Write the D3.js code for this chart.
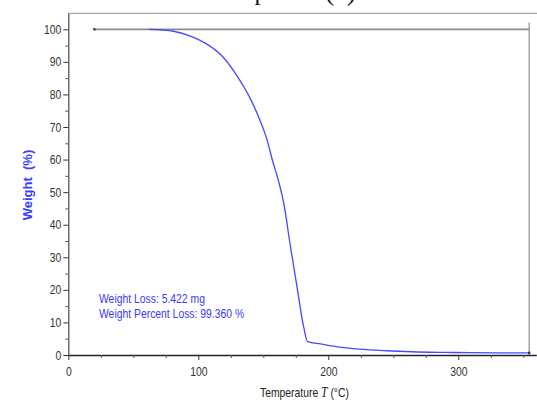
<!DOCTYPE html>
<html><head><meta charset="utf-8">
<script src="https://cdn.jsdelivr.net/npm/d3@7"></script>
<style>
html,body{margin:0;padding:0;background:#fff;}
svg{display:block;}
text{font-family:"Liberation Sans",Arial,sans-serif;}
</style></head>
<body>
<svg id="chart" width="537" height="406"></svg>
<script>
// ---- data ----
const temperature = [62, 70, 81, 94, 106, 119, 132, 140, 147, 153, 157, 162, 166, 170.5, 175.5, 181, 184, 194, 206, 224, 245, 264, 290, 309, 330, 354];
const weight      = [100, 99.8, 99.4, 97.9, 95.6, 91.5, 84.3, 78.7, 72.5, 65.9, 59.8, 53, 46, 34.3, 22, 8.7, 4.1, 3.4, 2.6, 1.8, 1.3, 1.0, 0.8, 0.7, 0.65, 0.64];
const baselineT = [20, 354.5];
const baselineW = [100, 100];
const xTicks = [0, 100, 200, 300];
const yTicks = [0, 10, 20, 30, 40, 50, 60, 70, 80, 90, 100];
const annotation = ["Weight Loss: 5.422 mg", "Weight Percent Loss: 99.360 %"];
const xLabel = "Temperature";
const yLabel = "Weight  (%)";

const svg = d3.select("#chart");
const SQ = 0.83; // horizontal squeeze of the source image

const x = d3.scaleLinear().domain([0, 360]).range([68.3, 536.3]);
const y = d3.scaleLinear().domain([0, 105]).range([355, 13]);

function squeeze(sel){
  sel.each(function(){
    const w = this.getComputedTextLength();
    this.setAttribute("textLength", (w*SQ).toFixed(2));
    this.setAttribute("lengthAdjust", "spacingAndGlyphs");
  });
}

// clipped title fragment at the very top
svg.append("text").attr("x", 206).attr("y", 0).attr("font-family", "Liberation Serif, Times New Roman, serif")
  .attr("font-size", 25).attr("fill", "#111").style("font-family","'Liberation Serif',serif").text("Compound");
svg.append("text").attr("x", 325).attr("y", 0)
  .attr("font-size", 28).attr("fill", "#111").style("font-family","'Liberation Serif',serif").text("(a)");

// top frame line
svg.append("line").attr("x1", x(0)).attr("x2", 537).attr("y1", 13.3).attr("y2", 13.3)
  .attr("stroke", "#a8a8a8").attr("stroke-width", 1.2);

// minor ticks
const xMinor = d3.range(0, 361, 25).filter(v => v % 100 !== 0);
const yMinor = d3.range(5, 105, 10);

// x axis
const gx = svg.append("g").attr("transform", "translate(0,355)")
  .call(d3.axisBottom(x).tickValues(xTicks).tickSize(5).tickPadding(7).tickSizeOuter(0));
gx.select(".domain").attr("stroke", "#222").attr("stroke-width", 1.3);
gx.selectAll(".tick line").attr("stroke", "#333");
gx.selectAll(".tick text").attr("font-size", 12.5).attr("fill", "#333").style("font-family","'Liberation Sans',Arial,sans-serif").call(squeeze);
svg.append("g").attr("transform", "translate(0,355)")
  .call(d3.axisBottom(x).tickValues(xMinor).tickSize(3).tickFormat(""))
  .call(g => g.select(".domain").remove())
  .selectAll("line").attr("stroke", "#555");

// y axis
const gy = svg.append("g").attr("transform", `translate(${x(0)},0)`)
  .call(d3.axisLeft(y).tickValues(yTicks).tickSize(5).tickPadding(2).tickSizeOuter(0));
gy.select(".domain").attr("stroke", "#555").attr("stroke-width", 1.3);
gy.selectAll(".tick line").attr("stroke", "#333");
gy.selectAll(".tick text").attr("font-size", 12.5).attr("fill", "#333").style("font-family","'Liberation Sans',Arial,sans-serif").call(squeeze);
svg.append("g").attr("transform", `translate(${x(0)},0)`)
  .call(d3.axisLeft(y).tickValues(yMinor).tickSize(3).tickFormat(""))
  .call(g => g.select(".domain").remove())
  .selectAll("line").attr("stroke", "#555");

// right vertical line
svg.append("line").attr("x1", x(354.5)).attr("x2", x(354.5)).attr("y1", 22.5).attr("y2", 355)
  .attr("stroke", "#777").attr("stroke-width", 1);

// 100% baseline (gray)
const base = baselineT.map((t,i)=>[t, baselineW[i]]);
svg.append("path").datum(base)
  .attr("d", d3.line().x(d=>x(d[0])).y(d=>y(d[1])))
  .attr("fill", "none").attr("stroke", "#8c8c8c").attr("stroke-width", 1.8);
svg.append("rect").attr("x", x(20)-1.2).attr("y", y(100)-1.2).attr("width", 2.4).attr("height", 2.4).attr("fill", "#444");

// TGA curve
const pts = temperature.map((t,i)=>[t, weight[i]]);
svg.append("path").datum(pts)
  .attr("d", d3.line().x(d=>x(d[0])).y(d=>y(d[1])).curve(d3.curveMonotoneX))
  .attr("fill", "none").attr("stroke", "#4848ff").attr("stroke-width", 1.3);
svg.append("rect").attr("x", x(354.5)-1.2).attr("y", y(0.64)-1.2).attr("width", 2.4).attr("height", 2.4).attr("fill", "#333");

// annotation
annotation.forEach((s,i)=>{
  svg.append("text").attr("x", 99).attr("y", 303 + i*15.3)
    .attr("font-size", 12.5).attr("fill", "#3a3aff").text(s).call(squeeze);
});

// y label
svg.append("text").attr("transform", "translate(32,185) rotate(-90)")
  .attr("text-anchor", "middle").attr("font-size", 13).attr("font-weight", "bold")
  .attr("fill", "#3c3cff").attr("xml:space", "preserve").style("white-space","pre").text(yLabel);

// x label
const xl = svg.append("text").attr("x", 260).attr("y", 397).attr("font-size", 12.5).attr("fill", "#222")
  .style("white-space","pre");
xl.append("tspan").text(xLabel + " ");
xl.append("tspan").style("font-family","'Liberation Serif',serif").attr("font-style","italic").attr("font-size", 14).text("T");
xl.append("tspan").text(" (°C)");
// squeeze x label as a whole
(function(){
  const node = xl.node();
  const w = node.getComputedTextLength();
  xl.attr("transform", `translate(260,0) scale(${SQ},1) translate(-260,0)`);
})();
</script>
</body></html>
